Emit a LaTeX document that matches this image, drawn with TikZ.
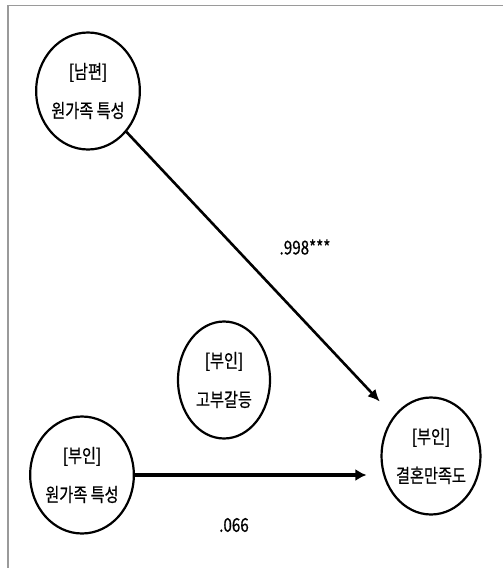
\documentclass[tikz,border=0pt]{standalone}
\usepackage{fontspec}
\newfontfamily\kr{Noto Sans CJK KR}[FakeStretch=0.8,FakeBold=0.6]
\usepackage{tikz}
\usetikzlibrary{arrows.meta,positioning,shapes.geometric}
\definecolor{Frame}{HTML}{9A9A9A}

\begin{document}
\begin{tikzpicture}[x=1pt,y=-1pt,every node/.style={font=\kr\fontsize{19}{39}\selectfont, align=center},
  var/.style={draw,ellipse,line width=2.2pt,minimum width=92pt,minimum height=117pt,inner sep=0pt,
    execute at begin node={\rule{0pt}{26pt}}}]
      \useasboundingbox (0,0) rectangle (503,568);
      \draw[Frame,line width=1.8pt] (8,568) -- (8,5.5) -- (503,5.5);

      \node[var] (hus) at (88,91) {[남편]\\원가족 특성};
      \node[var] (conf) at (224,380) {[부인]\\고부갈등};
      \node[var] (wife) at (82,475) {[부인]\\원가족 특성};
      \node[var] (wsat) at (431,456) {[부인]\\결혼만족도};

      \draw[-{Latex[length=12pt,width=11pt]},line width=2.6pt,shorten >=20pt] (hus) -- (wsat);
      \draw[-{Latex[length=11pt,width=12pt]},line width=3.6pt,shorten >=14pt] (wife.east) -- (wife.east -| wsat.west);

      \node (b1) at (305,247) {.998***};
      \node (b2) at (234,525) {.066};
    \end{tikzpicture}
\end{document}
